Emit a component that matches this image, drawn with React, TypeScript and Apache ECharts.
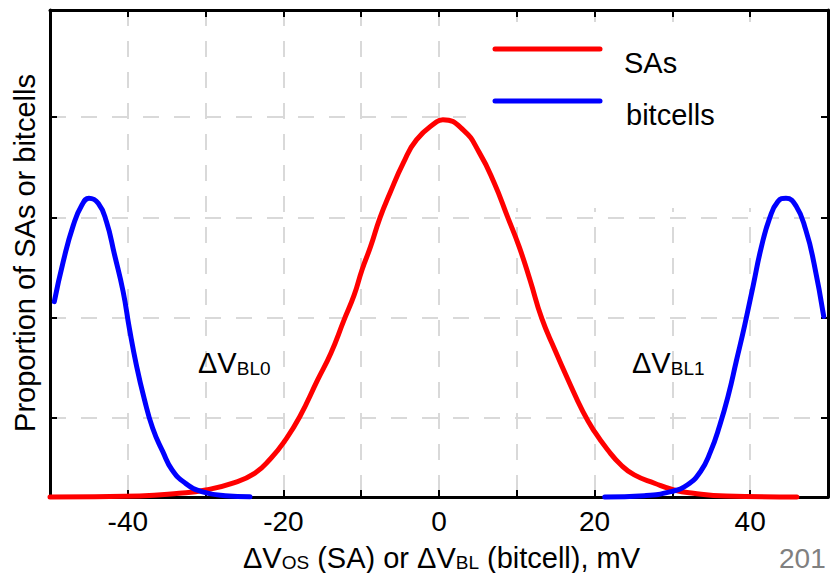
import React, { useEffect, useRef } from 'react';
import * as echarts from 'echarts';

// ---- data ----
const xMin = -50;
const xMax = 50;
const xTickStep = 10;
const xLabelValues = [-40, -20, 0, 20, 40];
const yMin = 0;
const yMax = 4.854;
const yTickValues = [0.787, 1.787, 2.787, 3.787];

const saX = [-50, -38.5, -33.4, -30, -26.6, -23.7, -21.6, -19.9, -17.9, -15.6, -13.9, -12.2, -10.9, -9.9, -8.8, -7.6, -6.3, -4.6, -2.9, -0.3, 0.5, 3.1, 5.2, 7.1, 8.8, 10.3, 11.7, 13.2, 14.9, 16.6, 18.5, 20, 21.7, 23.4, 25.1, 27.7, 30.2, 32.7, 36.9, 46];
const saY = [0, 0.01, 0.037, 0.07, 0.136, 0.236, 0.386, 0.551, 0.8, 1.167, 1.433, 1.765, 2.014, 2.263, 2.495, 2.78, 3.03, 3.327, 3.56, 3.74, 3.76, 3.66, 3.43, 3.13, 2.795, 2.495, 2.163, 1.782, 1.466, 1.167, 0.85, 0.651, 0.468, 0.319, 0.22, 0.137, 0.07, 0.037, 0.01, 0];

const bl0X = [-49.45, -48.3, -47.0, -45.9, -45.0, -43.8, -42.75, -41.7, -40.6, -39.8, -38.9, -37.9, -36.8, -35.5, -34.3, -32.6, -30.5, -27.5, -24.3];
const bl0Y = [1.947, 2.346, 2.71, 2.91, 2.978, 2.928, 2.745, 2.413, 2.047, 1.682, 1.316, 0.984, 0.685, 0.452, 0.269, 0.137, 0.053, 0.013, 0.003];

const bl1X = [21.3, 26.4, 29.8, 31.9, 33.6, 34.9, 36.1, 37.2, 38.2, 39.3, 40.4, 41.4, 42.5, 43.55, 44.6, 45.9, 47.15, 48.2, 49.45];
const bl1Y = [0, 0.013, 0.053, 0.12, 0.252, 0.452, 0.718, 1.017, 1.349, 1.715, 2.114, 2.48, 2.779, 2.944, 2.978, 2.9, 2.66, 2.33, 1.8];

const legendNames = ['SAs', 'bitcells'];
const seriesColors = ['#ff0000', '#0000ff'];

const FONT = '"Liberation Sans", Arial, Helvetica, sans-serif';

const zip = (xs: number[], ys: number[]) => xs.map((x, i) => [x, ys[i]]);

export default function App() {
  const ref = useRef<HTMLDivElement>(null);

  useEffect(() => {
    if (!ref.current) return;
    const chart = echarts.init(ref.current, undefined, { renderer: 'svg' });

    const axisLineStyle = { color: '#000', width: 3 };
    const tickStyle = { show: true, inside: true, length: 7, lineStyle: { color: '#000', width: 2 } };
    const gridLine = { show: true, lineStyle: { color: '#d9d9d9', width: 2, type: [16, 15] as any } };
    const hidden = { show: false };

    const rich = {
      m: { fontSize: 29, lineHeight: 29, fontFamily: FONT, color: '#000' },
      s: { fontSize: 19, lineHeight: 15, verticalAlign: 'bottom', fontFamily: FONT, color: '#000' },
    };

    const lineSeries = (name: string, data: number[][], color: string) => ({
      type: 'line',
      name,
      data,
      xAxisIndex: 0,
      yAxisIndex: 0,
      showSymbol: false,
      smooth: 0.5,
      clip: false,
      z: 4,
      lineStyle: { color, width: 5, cap: 'round', join: 'round' },
      itemStyle: { color },
    });

    const option: any = {
      animation: false,
      backgroundColor: '#fff',
      grid: { left: 50, right: -4.7, top: 10, bottom: 76, containLabel: false },
      xAxis: [
        {
          type: 'value', min: xMin, max: xMax, interval: xTickStep, position: 'bottom', z: 3,
          axisLine: { show: true, onZero: false, lineStyle: axisLineStyle },
          axisTick: tickStyle,
          axisLabel: {
            show: true, margin: 10, fontSize: 28, fontFamily: FONT, color: '#000',
            formatter: (v: number) => (xLabelValues.indexOf(v) >= 0 ? String(v) : ''),
          },
          splitLine: hidden,
        },
        {
          type: 'value', min: xMin, max: xMax, interval: xTickStep, position: 'top', z: 3,
          axisLine: { show: true, onZero: false, lineStyle: axisLineStyle },
          axisTick: tickStyle,
          axisLabel: hidden,
          splitLine: hidden,
        },
        {
          type: 'value', min: xMin, max: xMax, interval: xTickStep, position: 'bottom', z: 0,
          axisLine: { show: false, onZero: false },
          axisTick: hidden,
          axisLabel: hidden,
          splitLine: gridLine,
        },
      ],
      yAxis: [
        {
          type: 'value', min: yMin, max: yMax, position: 'left', z: 3,
          axisLine: { show: true, onZero: false, lineStyle: axisLineStyle },
          axisTick: { ...tickStyle, customValues: yTickValues },
          axisLabel: { show: false, customValues: yTickValues },
          splitLine: hidden,
        },
        {
          type: 'value', min: yMin, max: yMax, position: 'right', z: 3,
          axisLine: { show: true, onZero: false, lineStyle: axisLineStyle },
          axisTick: { ...tickStyle, customValues: yTickValues },
          axisLabel: { show: false, customValues: yTickValues },
          splitLine: hidden,
        },
        {
          type: 'value', min: yMin, max: yMax, position: 'left', z: 0,
          axisLine: { show: false, onZero: false },
          axisTick: { show: false, customValues: yTickValues },
          axisLabel: { show: false, customValues: yTickValues },
          splitLine: gridLine,
        },
      ],
      series: [
        lineSeries(legendNames[0], zip(saX, saY), seriesColors[0]),
        lineSeries(legendNames[1], zip(bl0X, bl0Y), seriesColors[1]),
        lineSeries(legendNames[1], zip(bl1X, bl1Y), seriesColors[1]),
      ],
      graphic: [
        // legend box covering the grid lines
        { type: 'rect', z: 1, shape: { x: 466, y: 22, width: 380, height: 186 }, style: { fill: '#fff' } },
        { type: 'line', z: 10, shape: { x1: 495, y1: 49, x2: 600, y2: 49 }, style: { stroke: seriesColors[0], lineWidth: 5, lineCap: 'round' } },
        { type: 'line', z: 10, shape: { x1: 495, y1: 101, x2: 600, y2: 101 }, style: { stroke: seriesColors[1], lineWidth: 5, lineCap: 'round' } },
        { type: 'text', z: 10, x: 624, y: 62.7, style: { text: legendNames[0], font: `29px ${FONT}`, fill: '#000', align: 'left', verticalAlign: 'middle' } },
        { type: 'text', z: 10, x: 626, y: 115, style: { text: legendNames[1], font: `29px ${FONT}`, fill: '#000', align: 'left', verticalAlign: 'middle' } },
        // y axis title
        { type: 'text', z: 10, x: 25, y: 253, rotation: Math.PI / 2, style: { text: 'Proportion of SAs or bitcells', font: `29px ${FONT}`, fill: '#000', align: 'center', verticalAlign: 'middle' } },
        // x axis title
        { type: 'text', z: 10, x: 441.5, y: 543, style: { text: '{m|ΔV}{s|OS}{m| (SA) or ΔV}{s|BL}{m| (bitcell), mV}', rich, align: 'center', verticalAlign: 'top' } },
        // annotations
        { type: 'text', z: 10, x: 198, y: 348.5, style: { text: '{m|ΔV}{s|BL0}', rich, align: 'left', verticalAlign: 'top' } },
        { type: 'text', z: 10, x: 632, y: 348.5, style: { text: '{m|ΔV}{s|BL1}', rich, align: 'left', verticalAlign: 'top' } },
        // cropped year mark
        { type: 'text', z: 10, x: 779, y: 558, style: { text: '201', font: `28px ${FONT}`, fill: '#808080', align: 'left', verticalAlign: 'middle' } },
      ],
    };

    chart.setOption(option);
    return () => chart.dispose();
  }, []);

  return (
    <div
      ref={ref}
      style={{ position: 'fixed', left: 0, top: 0, width: 831, height: 573, background: '#fff' }}
    />
  );
}
